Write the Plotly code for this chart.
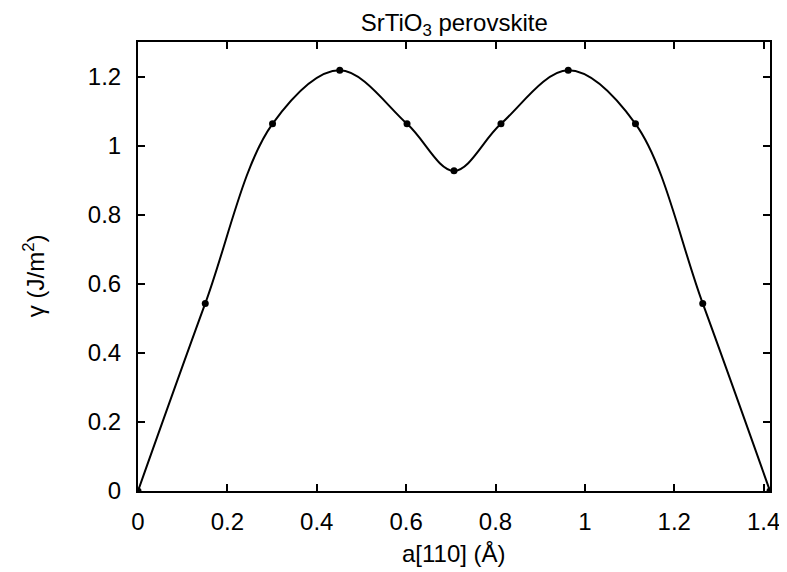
import plotly.graph_objects as go

# Data
a110 = [0.0, 0.1505, 0.301, 0.4515, 0.602, 0.7071, 0.8122, 0.9627, 1.1132, 1.2637, 1.4142]
gamma = [0.0, 0.543, 1.063, 1.218, 1.063, 0.927, 1.063, 1.218, 1.063, 0.543, 0.0]
xticks = [0, 0.2, 0.4, 0.6, 0.8, 1.0, 1.2, 1.4]
xticklabels = ["0", "0.2", "0.4", "0.6", "0.8", "1", "1.2", "1.4"]
yticks = [0, 0.2, 0.4, 0.6, 0.8, 1.0, 1.2]
yticklabels = ["0", "0.2", "0.4", "0.6", "0.8", "1", "1.2"]

FONT = "Liberation Sans, Arial, sans-serif"
FS = 24

fig = go.Figure()
fig.add_trace(go.Scatter(
    x=a110, y=gamma, mode="lines",
    line=dict(color="black", width=2, shape="spline", smoothing=1.0),
    hoverinfo="skip", showlegend=False,
))
fig.add_trace(go.Scatter(
    x=a110, y=gamma, mode="markers",
    marker=dict(color="black", size=7),
    showlegend=False,
))

axis_common = dict(
    showgrid=False, zeroline=False, showline=True, linecolor="black", linewidth=2,
    ticks="inside", ticklen=7, tickwidth=1.5, tickcolor="black", mirror="allticks",
    tickfont=dict(family=FONT, size=FS, color="black"), automargin=False,
)

fig.update_xaxes(range=[0, 1.4142], tickvals=xticks, ticktext=xticklabels,
                 ticklabelstandoff=8, **axis_common)
fig.update_yaxes(range=[0, 1.3], tickvals=yticks, ticktext=yticklabels,
                 ticklabelstandoff=10, **axis_common)

fig.update_layout(
    width=787, height=572,
    margin=dict(l=130, r=25, t=34, b=89, autoexpand=False),
    paper_bgcolor="white", plot_bgcolor="white",
    font=dict(family=FONT, size=FS, color="black"),
    title=dict(text="SrTiO<sub>3</sub> perovskite", x=0.567, xanchor="center",
               y=1 - 15 / 572, yanchor="middle", yref="container",
               font=dict(family=FONT, size=FS, color="black")),
    annotations=[
        dict(text="a[110] (Å)", xref="paper", yref="paper", x=0.5, y=-0.139,
             xanchor="center", yanchor="middle", showarrow=False,
             font=dict(family=FONT, size=FS, color="black")),
        dict(text="γ (J/m<sup>2</sup>)", xref="paper", yref="paper", x=-0.1635, y=0.48,
             xanchor="center", yanchor="middle", showarrow=False, textangle=-90,
             font=dict(family=FONT, size=FS, color="black")),
    ],
)

fig.write_html("out.html")
